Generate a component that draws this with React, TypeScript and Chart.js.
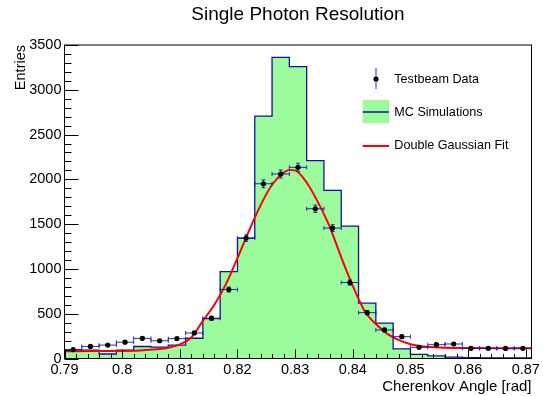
import React, { useEffect, useRef } from "react";
import { Chart, registerables } from "chart.js";

Chart.register(...registerables);

// ---------- data ----------
const binEdges = [
  0.79, 0.793, 0.796, 0.799, 0.802, 0.805, 0.808, 0.811, 0.814, 0.817,
  0.82, 0.823, 0.826, 0.829, 0.832, 0.835, 0.838, 0.841, 0.844, 0.847,
  0.85, 0.853, 0.856, 0.859, 0.862, 0.865, 0.868, 0.871,
];
const mcCounts = [
  93, 93, 50, 93, 134, 126, 149, 226, 445, 970,
  1344, 2706, 3362, 3258, 2210, 1878, 1478, 618, 395, 108,
  45, 30, 15, 10, 8, 6, 8,
];

const dataX = [
  0.7915, 0.7945, 0.7975, 0.8005, 0.8035, 0.8065, 0.8095, 0.8125, 0.8155, 0.8185,
  0.8215, 0.8245, 0.8275, 0.8305, 0.8335, 0.8365, 0.8395, 0.8425, 0.8455, 0.8485,
  0.8515, 0.8545, 0.8575, 0.8605, 0.8635, 0.8665, 0.8695,
];
const dataY = [
  100, 135, 150, 182, 225, 198, 222, 285, 450, 770,
  1344, 1951, 2060, 2134, 1672, 1456, 848, 512, 319, 244,
  125, 154, 162, 114, 114, 112, 114,
];
const dataErrY = [
  10, 12, 12, 14, 15, 14, 15, 17, 21, 28,
  37, 44, 45, 46, 41, 38, 29, 23, 18, 16,
  11, 12, 13, 11, 11, 10, 11,
];
const dataErrX = 0.0015;

const fitX = [
  0.79, 0.795, 0.8, 0.803, 0.806, 0.808, 0.81, 0.812, 0.814, 0.816,
  0.818, 0.82, 0.822, 0.824, 0.826, 0.828, 0.829, 0.83, 0.832, 0.834,
  0.836, 0.838, 0.84, 0.842, 0.844, 0.846, 0.848, 0.85, 0.852, 0.855,
  0.86, 0.865, 0.871,
];
const fitY = [
  82, 83, 85, 90, 102, 120, 158, 235, 420, 600,
  830, 1120, 1425, 1710, 1940, 2075, 2105, 2100, 1965, 1740,
  1470, 1130, 810, 537, 385, 275, 205, 160, 138, 123,
  117, 115, 115,
];

const xTickValues = [0.79, 0.8, 0.81, 0.82, 0.83, 0.84, 0.85, 0.86, 0.87];
const xTickLabels = ["0.79", "0.8", "0.81", "0.82", "0.83", "0.84", "0.85", "0.86", "0.87"];
const yTickValues = [0, 500, 1000, 1500, 2000, 2500, 3000, 3500];
const yTickLabels = ["0", "500", "1000", "1500", "2000", "2500", "3000", "3500"];

const chartTitle = "Single Photon Resolution";
const xTitle = "Cherenkov Angle [rad]";
const yTitle = "Entries";
const legendLabels = ["Testbeam Data", "MC Simulations", "Double Gaussian Fit"];

// ---------- styles ----------
const FONT = '"Liberation Sans", Arial, Helvetica, sans-serif';
const GREEN = "#9cfc9c";
const MC_BLUE = "#1010a8";
const ERR_BLUE = "rgba(20,20,190,0.9)";
const RED = "#ff0000";

const rootPlugin = {
  id: "rootStyle",
  beforeDatasetDraw(chart: any, args: any) {
    if (args.index !== 1) return;
    const { ctx, chartArea: a } = chart;
    const x = chart.scales.x;
    const y = chart.scales.y;
    ctx.save();
    ctx.beginPath();
    ctx.rect(a.left, a.top, a.right - a.left, a.bottom - a.top);
    ctx.clip();
    ctx.strokeStyle = ERR_BLUE;
    ctx.lineWidth = 1;
    for (let i = 0; i < dataX.length; i++) {
      const cx = x.getPixelForValue(dataX[i]);
      const cy = y.getPixelForValue(dataY[i]);
      const x0 = x.getPixelForValue(dataX[i] - dataErrX);
      const x1 = x.getPixelForValue(dataX[i] + dataErrX);
      const y0 = y.getPixelForValue(dataY[i] - dataErrY[i]);
      const y1 = y.getPixelForValue(dataY[i] + dataErrY[i]);
      ctx.beginPath();
      ctx.moveTo(x0, cy);
      ctx.lineTo(x1, cy);
      ctx.moveTo(x0, cy - 2);
      ctx.lineTo(x0, cy + 2);
      ctx.moveTo(x1, cy - 2);
      ctx.lineTo(x1, cy + 2);
      ctx.moveTo(cx, y0);
      ctx.lineTo(cx, y1);
      ctx.moveTo(cx - 2, y0);
      ctx.lineTo(cx + 2, y0);
      ctx.moveTo(cx - 2, y1);
      ctx.lineTo(cx + 2, y1);
      ctx.stroke();
    }
    ctx.restore();
  },
  afterDatasetsDraw(chart: any) {
    const { ctx, chartArea: a } = chart;
    const x = chart.scales.x;
    const y = chart.scales.y;
    ctx.save();
    ctx.strokeStyle = "#000";
    ctx.lineWidth = 1;
    ctx.beginPath();
    // x ticks (inside, upward)
    for (let i = 0; i < xTickValues.length; i++) {
      const v = xTickValues[i];
      const px = Math.round(x.getPixelForValue(v)) + 0.5;
      ctx.moveTo(px, a.bottom);
      ctx.lineTo(px, a.bottom - 9);
      if (i < xTickValues.length - 1) {
        const step = (xTickValues[i + 1] - v) / 5;
        for (let k = 1; k < 5; k++) {
          const mx = Math.round(x.getPixelForValue(v + k * step)) + 0.5;
          ctx.moveTo(mx, a.bottom);
          ctx.lineTo(mx, a.bottom - 4.5);
        }
      }
    }
    // y ticks (inside, rightward)
    for (let i = 0; i < yTickValues.length; i++) {
      const v = yTickValues[i];
      const py = Math.round(y.getPixelForValue(v)) + 0.5;
      ctx.moveTo(a.left, py);
      ctx.lineTo(a.left + 14, py);
      if (i < yTickValues.length - 1) {
        const step = (yTickValues[i + 1] - v) / 5;
        for (let k = 1; k < 5; k++) {
          const my = Math.round(y.getPixelForValue(v + k * step)) + 0.5;
          ctx.moveTo(a.left, my);
          ctx.lineTo(a.left + 7, my);
        }
      }
    }
    ctx.stroke();
    // frame
    ctx.strokeRect(a.left, a.top, a.right - a.left, a.bottom - a.top);
    ctx.restore();
  },
  afterDraw(chart: any) {
    const { ctx } = chart;
    ctx.save();
    // Testbeam data marker
    ctx.strokeStyle = ERR_BLUE;
    ctx.lineWidth = 1;
    ctx.beginPath();
    ctx.moveTo(376, 68);
    ctx.lineTo(376, 89);
    ctx.stroke();
    ctx.fillStyle = "#000";
    ctx.beginPath();
    ctx.arc(376, 79, 2.6, 0, Math.PI * 2);
    ctx.fill();
    // MC box
    ctx.fillStyle = GREEN;
    ctx.fillRect(362.7, 100, 26.3, 23.3);
    ctx.strokeStyle = MC_BLUE;
    ctx.lineWidth = 1.5;
    ctx.beginPath();
    ctx.moveTo(362.7, 112);
    ctx.lineTo(389, 112);
    ctx.stroke();
    // fit line
    ctx.strokeStyle = RED;
    ctx.lineWidth = 2;
    ctx.beginPath();
    ctx.moveTo(362.7, 146);
    ctx.lineTo(389, 146);
    ctx.stroke();
    // texts
    ctx.fillStyle = "#000";
    ctx.font = `12.6px ${FONT}`;
    ctx.textAlign = "left";
    ctx.textBaseline = "middle";
    ctx.fillText(legendLabels[0], 394.3, 80);
    ctx.fillText(legendLabels[1], 394.3, 112.7);
    ctx.fillText(legendLabels[2], 394.3, 146);
    ctx.restore();
  },
};

export default function App() {
  const ref = useRef<HTMLCanvasElement>(null);
  useEffect(() => {
    const canvas = ref.current;
    if (!canvas) return;
    const mcPoints = binEdges.map((e, i) => ({
      x: e,
      y: mcCounts[Math.min(i, mcCounts.length - 1)],
    }));
    const dataPoints = dataX.map((v, i) => ({ x: v, y: dataY[i] }));
    const fitPoints = fitX.map((v, i) => ({ x: v, y: fitY[i] }));

    const chart = new Chart(canvas, {
      type: "line",
      data: {
        datasets: [
          {
            label: legendLabels[1],
            data: mcPoints,
            stepped: true,
            fill: "origin",
            backgroundColor: GREEN,
            borderColor: MC_BLUE,
            borderWidth: 1.3,
            pointRadius: 0,
            order: 3,
          } as any,
          {
            label: legendLabels[0],
            data: dataPoints,
            showLine: false,
            pointRadius: 2.6,
            pointBackgroundColor: "#000",
            pointBorderWidth: 0,
            borderColor: "#000",
            order: 1,
          } as any,
          {
            label: legendLabels[2],
            data: fitPoints,
            borderColor: RED,
            borderWidth: 2,
            pointRadius: 0,
            fill: false,
            cubicInterpolationMode: "monotone",
            order: 2,
          } as any,
        ],
      },
      options: {
        animation: false,
        responsive: false,
        devicePixelRatio: 1,
        events: [],
        layout: { padding: { left: 0, right: 10.5, top: 0, bottom: 0 } },
        plugins: {
          legend: { display: false },
          tooltip: { enabled: false },
          title: {
            display: true,
            text: chartTitle,
            fullSize: false,
            align: "center",
            color: "#000",
            font: { family: FONT, size: 19, weight: "normal" },
            padding: { top: 3.6, bottom: 18.6 },
          },
        },
        scales: {
          x: {
            type: "linear",
            min: 0.79,
            max: 0.871,
            afterBuildTicks: (s: any) => {
              s.ticks = xTickValues.map((v) => ({ value: v }));
            },
            afterFit: (s: any) => {
              s.height = 37.5;
            },
            ticks: {
              autoSkip: false,
              maxRotation: 0,
              padding: 3,
              color: "#000",
              font: { family: FONT, size: 14.5 },
              callback: (_v: any, i: number) => xTickLabels[i],
            },
            grid: { display: false, drawTicks: false },
            border: { display: false },
            title: {
              display: true,
              text: xTitle,
              align: "end",
              color: "#000",
              font: { family: FONT, size: 15 },
              padding: { top: 0, bottom: 0.3 },
            },
          },
          y: {
            type: "linear",
            min: 0,
            max: 3500,
            afterBuildTicks: (s: any) => {
              s.ticks = yTickValues.map((v) => ({ value: v }));
            },
            afterFit: (s: any) => {
              s.width = 64.5;
            },
            ticks: {
              autoSkip: false,
              padding: 3,
              color: "#000",
              font: { family: FONT, size: 14.5 },
              callback: (_v: any, i: number) => yTickLabels[i],
            },
            grid: { display: false, drawTicks: false },
            border: { display: false },
            title: {
              display: true,
              text: yTitle,
              align: "end",
              color: "#000",
              font: { family: FONT, size: 14.5 },
              padding: { top: 12.3, bottom: 0 },
            },
          },
        },
      } as any,
      plugins: [rootPlugin as any],
    });
    return () => chart.destroy();
  }, []);

  return (
    <div
      style={{
        position: "fixed",
        left: 0,
        top: 0,
        width: 543,
        height: 396,
        background: "#fff",
      }}
    >
      <canvas
        ref={ref}
        width={543}
        height={396}
        style={{ width: 543, height: 396, display: "block" }}
      />
    </div>
  );
}
